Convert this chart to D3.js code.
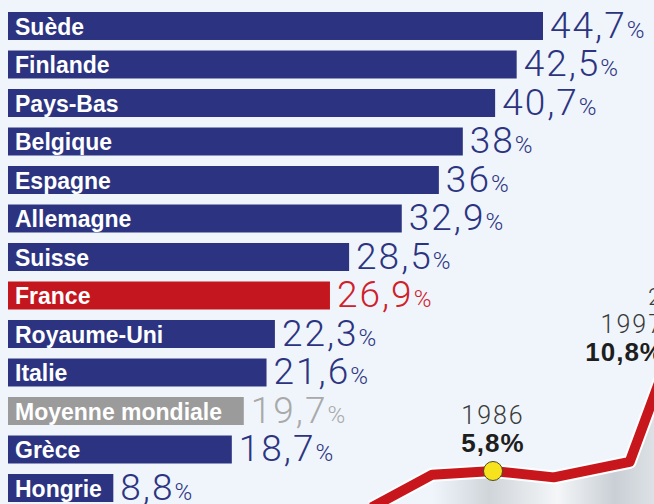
<!DOCTYPE html>
<html>
<head>
<meta charset="utf-8">
<script src="https://cdn.jsdelivr.net/npm/d3@7"></script>
<style>
  body { margin: 0; background: #eff5fb; }
  svg { display: block; }
</style>
</head>
<body>
<div id="chart"></div>
<script>
// Dimensions
const width = 654;
const height = 504;

// Bar data
const countries = ['Suède', 'Finlande', 'Pays-Bas', 'Belgique', 'Espagne', 'Allemagne', 'Suisse',
    'France', 'Royaume-Uni', 'Italie', 'Moyenne mondiale', 'Grèce', 'Hongrie'];
const values = [44.7, 42.5, 40.7, 38, 36, 32.9, 28.5, 26.9, 22.3, 21.6, 19.7, 18.7, 8.8];

// Line data (bottom right, cut off)
const lineYears = [1978, 1982, 1986, 1990, 1995, 1997];
const lineValues = [3.8, 5.6, 5.8, 5.45, 6.3, 10.8];
const lineLabels = [{ year: 1986, value: 5.8 }, { year: 1997, value: 10.8 }];

// Colors
const navy = '#2c3481';
const barColor = d => d === 'France' ? '#c4161e' : d === 'Moyenne mondiale' ? '#9b9b9b' : navy;
const textColor = d => d === 'France' ? '#d0202a' : d === 'Moyenne mondiale' ? '#a9a9a9' : navy;
const fmt = v => String(v).replace('.', ',');

const svg = d3.select('#chart')
    .append('svg')
    .attr('width', width)
    .attr('height', height);

svg.append('rect')
    .attr('width', width)
    .attr('height', height)
    .attr('fill', '#eff5fb');

// Scales
const x = d3.scaleLinear()
    .domain([0, 44.7])
    .range([8, 543]);

const y = d3.scaleBand()
    .domain(countries)
    .range([12, 502])
    .paddingInner(0.273)
    .paddingOuter(0);

// Line scales
const lx = d3.scaleLinear()
    .domain([1986, 1997])
    .range([493, 660]);
const ly = d3.scaleLinear()
    .domain([5.8, 10.8])
    .range([471, 380]);

const lineData = lineYears.map((yr, i) => ({ year: yr, value: lineValues[i] }));

// Grey photo behind the line
const defs = svg.append('defs');
const grad = defs.append('linearGradient')
    .attr('id', 'rock')
    .attr('x1', 0).attr('y1', 0).attr('x2', 1).attr('y2', 0);
grad.append('stop').attr('offset', '0%').attr('stop-color', '#eff5fb');
grad.append('stop').attr('offset', '25%').attr('stop-color', '#d0d5da');
grad.append('stop').attr('offset', '55%').attr('stop-color', '#f4f6f8');
grad.append('stop').attr('offset', '80%').attr('stop-color', '#c9cfd5');
grad.append('stop').attr('offset', '100%').attr('stop-color', '#e0e4e8');

const area = d3.area()
    .x(d => lx(d.year))
    .y0(height)
    .y1(d => ly(d.value));

svg.append('path')
    .datum(lineData.slice(1))
    .attr('d', area)
    .attr('fill', 'url(#rock)');

const line = d3.line()
    .x(d => lx(d.year))
    .y(d => ly(d.value));

svg.append('path')
    .datum(lineData)
    .attr('d', line)
    .attr('fill', 'none')
    .attr('stroke', '#ffffff')
    .attr('stroke-width', 14)
    .attr('stroke-linejoin', 'round');

svg.append('path')
    .datum(lineData)
    .attr('d', line)
    .attr('fill', 'none')
    .attr('stroke', '#c8161d')
    .attr('stroke-width', 10)
    .attr('stroke-linejoin', 'round');

svg.append('circle')
    .attr('cx', lx(1986))
    .attr('cy', ly(5.8))
    .attr('r', 9.5)
    .attr('fill', '#f7e31d')
    .attr('stroke', '#4a4a30')
    .attr('stroke-width', 1);

// Line labels
lineLabels.forEach((d, i) => {
    const anchor = i === 0 ? 'middle' : 'end';
    const tx = i === 0 ? lx(d.year) : lx(d.year) + 4;
    svg.append('text')
        .attr('x', tx)
        .attr('y', ly(d.value) - 47)
        .attr('text-anchor', anchor)
        .attr('font-family', 'Roboto, sans-serif')
        .attr('font-weight', 300)
        .attr('font-size', 25)
        .attr('letter-spacing', 2)
        .attr('fill', '#3a3a3a')
        .text(d.year);
    svg.append('text')
        .attr('x', tx)
        .attr('y', ly(d.value) - 19)
        .attr('text-anchor', anchor)
        .attr('font-family', 'Liberation Sans, Arial, sans-serif')
        .attr('font-weight', 'bold')
        .attr('font-size', 26)
        .attr('letter-spacing', 1)
        .attr('fill', '#1e1e1e')
        .text(fmt(d.value) + '%');
});

// cut-off label at the right edge
svg.append('text')
    .attr('x', 648)
    .attr('y', 305)
    .attr('font-family', 'Roboto, sans-serif')
    .attr('font-weight', 300)
    .attr('font-size', 24)
    .attr('fill', '#3a3a3a')
    .text('20');

// Bars
const rows = svg.append('g')
    .selectAll('g')
    .data(countries)
    .join('g');

rows.append('rect')
    .attr('x', x(0))
    .attr('y', d => y(d))
    .attr('width', (d, i) => x(values[i]) - x(0))
    .attr('height', y.bandwidth())
    .attr('fill', barColor);

rows.append('text')
    .attr('x', x(0) + 7)
    .attr('y', d => y(d) + y.bandwidth() - 5)
    .attr('font-family', 'Liberation Sans, Arial, sans-serif')
    .attr('font-weight', 'bold')
    .attr('font-size', 23)
    .attr('fill', '#ffffff')
    .text(d => d);

const valueText = rows.append('text')
    .attr('x', (d, i) => x(values[i]) + 7)
    .attr('y', d => y(d) + y.bandwidth() - 2)
    .attr('font-family', 'Roboto, sans-serif')
    .attr('font-weight', 300)
    .attr('fill', textColor);

valueText.append('tspan')
    .attr('font-size', 37)
    .attr('letter-spacing', 2)
    .text((d, i) => fmt(values[i]));

valueText.append('tspan')
    .attr('font-size', 24)
    .text('%');
</script>
</body>
</html>
